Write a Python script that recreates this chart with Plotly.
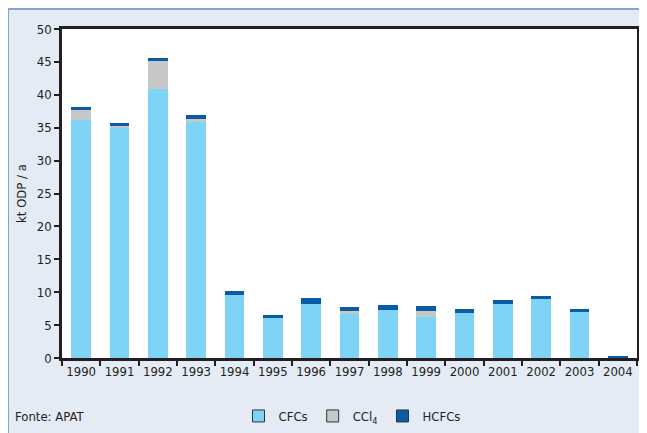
import plotly.graph_objects as go

years = ["1990", "1991", "1992", "1993", "1994", "1995", "1996", "1997",
         "1998", "1999", "2000", "2001", "2002", "2003", "2004"]
cfcs = [36.2, 35.0, 40.9, 35.9, 9.6, 6.1, 8.2, 6.8, 7.3, 6.2, 6.8, 8.2, 9.0, 7.1, 0.0]
ccl4 = [1.5, 0.3, 4.2, 0.4, 0.0, 0.0, 0.0, 0.3, 0.0, 0.9, 0.0, 0.0, 0.0, 0.0, 0.0]
hcfcs = [0.4, 0.4, 0.5, 0.7, 0.6, 0.4, 0.9, 0.7, 0.8, 0.8, 0.6, 0.6, 0.4, 0.3, 0.3]

series = [("CFCs", cfcs, "#7FD3F5"),
          ("CCl<sub>4</sub>", ccl4, "#C6C7C9"),
          ("HCFCs", hcfcs, "#0B5CA8")]

FONT = "DejaVu Sans Condensed, Liberation Sans Narrow, Arial Narrow, sans-serif"

fig = go.Figure()
for name, vals, col in series:
    fig.add_trace(go.Bar(x=years, y=vals, name=name, marker_color=col,
                         marker_line_width=0, showlegend=False))
for name, vals, col in series:
    fig.add_trace(go.Bar(x=[years[0]], y=[None], name=name, marker_color=col,
                         marker_line=dict(color="#333333", width=1), showlegend=True))

# page is offset by the default 8px body margin
OFF = 8
W, H = 647 - OFF, 433 - OFF
PL, PR, PT, PB = 62, 637, 29, 358   # plot area in page pixels
L, T = PL - OFF, PT - OFF
R = W - (PR - OFF)
B = H - (PB - OFF)
pw = PR - PL
ph = PB - PT

def px_x(p):
    return (p - PL) / pw

def px_y(p):
    return (PB - p) / ph

fig.add_shape(type="rect", xref="paper", yref="paper",
              x0=px_x(8), x1=px_x(700), y0=px_y(480), y1=px_y(9),
              fillcolor="#E4EBF5", line=dict(color="#7FA6D2", width=2), layer="below")
fig.add_shape(type="rect", xref="paper", yref="paper",
              x0=0, x1=1, y0=0, y1=1, fillcolor="white", line_width=0, layer="below")

fig.add_annotation(text="Fonte: APAT", xref="paper", yref="paper",
                   x=px_x(13), y=px_y(416), xanchor="left", yanchor="middle",
                   showarrow=False, font=dict(size=13, color="#231F20", family=FONT))

fig.update_layout(
    width=W, height=H,
    margin=dict(l=L, r=R, t=T, b=B, pad=0, autoexpand=False),
    barmode="stack", bargap=0.48,
    paper_bgcolor="white", plot_bgcolor="white",
    font=dict(family=FONT, size=13, color="#231F20"),
    legend=dict(orientation="h", x=px_x(352), y=px_y(416), xanchor="center",
                yanchor="middle", bgcolor="rgba(0,0,0,0)", itemwidth=30,
                font=dict(size=13), traceorder="normal"),
    xaxis=dict(type="category", showline=True, linecolor="#231F20", linewidth=2.5,
               mirror=True, ticks="outside", tickson="boundaries", ticklen=5,
               tickwidth=2, tickcolor="#231F20", showgrid=False, tickangle=0,
               tickfont=dict(size=13), automargin=False),
    yaxis=dict(range=[0, 50], dtick=5, showline=True, linecolor="#231F20",
               linewidth=2.5, mirror=True, ticks="outside", ticklen=5, tickwidth=2,
               tickcolor="#231F20", showgrid=False, zeroline=False,
               tickfont=dict(size=13), automargin=False,
               title=dict(text="kt ODP / a", font=dict(size=13), standoff=8)),
)

fig.write_html("out.html")
